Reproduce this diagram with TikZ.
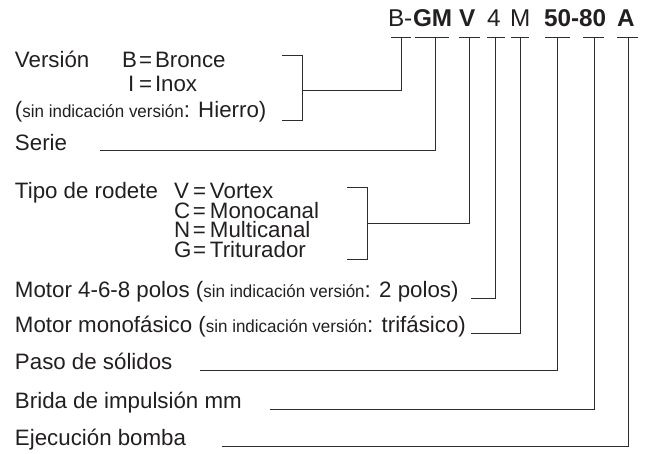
\documentclass[tikz,border=0pt]{standalone}
\usepackage{fontspec}
\setmainfont{Liberation Sans}
\newfontfamily\narrowsf[FakeStretch=0.97]{Liberation Sans}
\definecolor{txt}{RGB}{35,31,32}
\definecolor{lc}{RGB}{45,45,45}
\newcommand\mymainsz{\fontsize{22.3pt}{24pt}\selectfont}
\newcommand\mytightsz{\fontsize{22.3pt}{19.4pt}\selectfont}
\newcommand\mysmallsz{\narrowsf\fontsize{17.5pt}{19pt}\selectfont}
\newcommand\mycodesz{\fontsize{24.3pt}{26pt}\selectfont}
\newcommand\myopt[3]{\raisebox{0pt}[12pt][3pt]{\makebox[19pt][l]{#1}\makebox[17pt][l]{#2}#3}}
\tikzset{
  lbl/.style={anchor=base west, inner sep=0pt, outer sep=0pt, font=\mymainsz, text=txt},
  smlbl/.style={anchor=base west, inner sep=0pt, outer sep=0pt, font=\mysmallsz, text=txt},
  codelbl/.style={anchor=base west, inner sep=0pt, outer sep=0pt, font=\mycodesz, text=txt},
  ln/.style={draw=lc, line width=0.9pt},
}
\begin{document}
\begin{tikzpicture}[x=1pt,y=-1pt]
\useasboundingbox (0,0) rectangle (651,454);

% ---- code line ----
\node[codelbl] (cB)  at (388,27) {B-};
\node[codelbl] (cGM) at (413,27) {\bfseries GM};
\node[codelbl] (cV)  at (459,27) {\bfseries V};
\node[codelbl] (c4)  at (487,27) {4};
\node[codelbl] (cM)  at (510,27) {M};
\node[codelbl] (c50) at (544,27) {\bfseries 50-80};
\node[codelbl] (cA)  at (617,27) {\bfseries A};

% T tops
\coordinate (tB)  at (401,37);
\coordinate (tGM) at (435,37);
\coordinate (tV)  at (469,37);
\coordinate (t4)  at (495,37);
\coordinate (tM)  at (520,37);
\coordinate (t50) at (557,37);
\coordinate (t80) at (594,37);
\coordinate (tA)  at (628,37);
\draw[ln] (391,37) -- (411,37);
\draw[ln] (415,37) -- (449,37);
\draw[ln] (459,37) -- (480,37);
\draw[ln] (487,37) -- (505,37);
\draw[ln] (511,37) -- (529,37);
\draw[ln] (545,37) -- (570,37);
\draw[ln] (583,37) -- (604,37);
\draw[ln] (617,37) -- (638,37);

% ---- Version ----
\node[lbl] (ver)   at (15,68) {Versión};
\node[lbl] (verB)  at (122,68) {B};
\node[lbl] (verE1) at (139,68) {=};
\node[lbl] (verBr) at (155,68) {Bronce};
\node[lbl] (verI)  at (128,92) {I};
\node[lbl] (verE2) at (139,92) {=};
\node[lbl] (verIn) at (155,92) {Inox};
\node[lbl] (verP)  at (15,118) {(};
\node[smlbl] (verS) at (verP.base east) {sin indicación versión};
\node[lbl] (verH)  at (verS.base east) {: Hierro)};
\coordinate (vTop) at (282,55);
\coordinate (vBot) at (282,120);
\coordinate (vMid) at (302,90);
\draw[ln] (vTop) -- (302,55) -- (302,120) -- (vBot);
\draw[ln] (vMid) -- (tB |- vMid) -- (tB);

% ---- Serie ----
\node[lbl] (serie) at (15,151) {Serie};
\coordinate (sL) at (100,150);
\draw[ln] (sL) -- (tGM |- sL) -- (tGM);

% ---- Tipo de rodete ----
\node[lbl] (tipo) at (15,199) {Tipo de rodete};
\node[lbl, font=\mytightsz] (topts) at (174,199) {%
  \begin{tabular}[t]{@{}l@{}}
  \myopt{V}{=}{Vortex}\\
  \myopt{C}{=}{Monocanal}\\
  \myopt{N}{=}{Multicanal}\\
  \myopt{G}{=}{Triturador}
  \end{tabular}};
\coordinate (rTop) at (347,187);
\coordinate (rBot) at (347,259);
\coordinate (rMid) at (367,223);
\draw[ln] (rTop) -- (367,187) -- (367,259) -- (rBot);
\draw[ln] (rMid) -- (tV |- rMid) -- (tV);

% ---- Motor 4-6-8 ----
\node[lbl] (m1a) at (15,298) {Motor 4-6-8 polos (};
\node[smlbl] (m1b) at (m1a.base east) {sin indicación versión};
\node[lbl] (m1c) at (m1b.base east) {: 2 polos)};
\coordinate (m1L) at (471,298);
\draw[ln] (m1L) -- (t4 |- m1L) -- (t4);

% ---- Motor monofasico ----
\node[lbl] (m2a) at (15,333) {Motor monofásico (};
\node[smlbl] (m2b) at (m2a.base east) {sin indicación versión};
\node[lbl] (m2c) at (m2b.base east) {: trifásico)};
\coordinate (m2L) at (471,333);
\draw[ln] (m2L) -- (tM |- m2L) -- (tM);

% ---- Paso ----
\node[lbl] (paso) at (15,370) {Paso de sólidos};
\coordinate (pL) at (200,370);
\draw[ln] (pL) -- (t50 |- pL) -- (t50);

% ---- Brida ----
\node[lbl] (brida) at (15,409) {Brida de impulsión mm};
\coordinate (bL) at (270,409);
\draw[ln] (bL) -- (t80 |- bL) -- (t80);

% ---- Ejecucion ----
\node[lbl] (ejec) at (15,446) {Ejecución bomba};
\coordinate (eL) at (222,446);
\draw[ln] (eL) -- (tA |- eL) -- (tA);
\end{tikzpicture}
\end{document}
